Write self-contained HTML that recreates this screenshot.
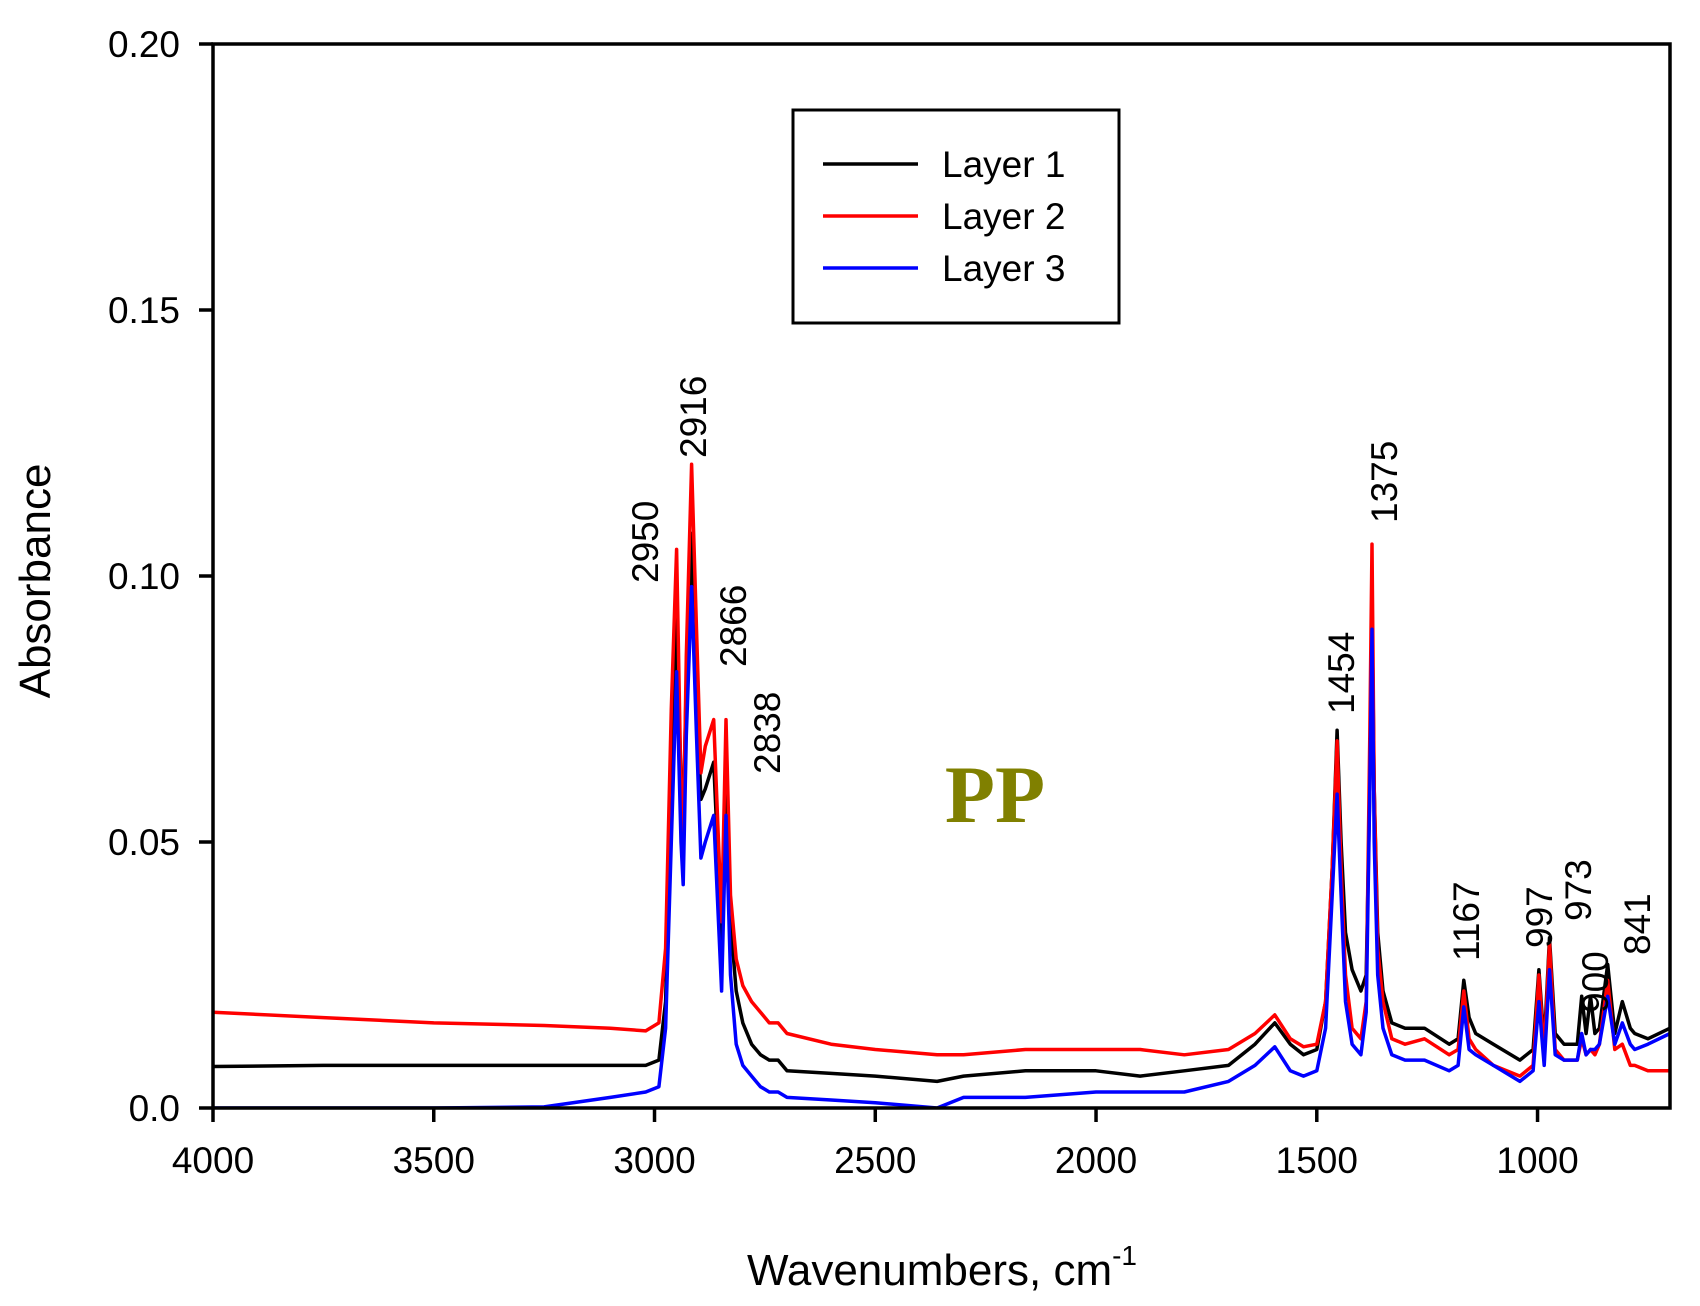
<!DOCTYPE html>
<html><head><meta charset="utf-8"><style>
html,body{margin:0;padding:0;background:#fff}
svg{display:block;font-family:"Liberation Sans",sans-serif}
</style></head><body>
<svg id="chart" width="1700" height="1306" viewBox="0 0 1700 1306"></svg>
<script>
const wavenumbers=[4000,3750,3500,3250,3100,3020,2990,2975,2962,2950,2940,2935,2928,2916,2905,2895,2885,2866,2855,2848,2838,2828,2815,2800,2780,2760,2740,2720,2700,2600,2500,2360,2300,2160,2000,1900,1800,1700,1640,1595,1560,1530,1500,1480,1465,1454,1445,1435,1420,1400,1388,1380,1375,1370,1362,1350,1330,1300,1256,1200,1180,1167,1155,1140,1100,1040,1010,997,985,973,960,940,910,900,890,880,870,860,841,825,808,790,780,750,700];
const layer1=[.0078,.008,.008,.008,.008,.008,.009,.02,.06,.095,.06,.055,.08,.108,.08,.058,.06,.065,.045,.03,.065,.035,.022,.016,.012,.010,.009,.009,.007,.0065,.006,.005,.006,.007,.007,.006,.007,.008,.012,.016,.012,.010,.011,.02,.045,.071,.05,.033,.026,.022,.025,.06,.095,.06,.033,.022,.016,.015,.015,.012,.013,.024,.017,.014,.012,.009,.011,.026,.012,.032,.014,.012,.012,.021,.014,.021,.014,.015,.027,.014,.020,.015,.014,.013,.015];
const layer2=[.018,.017,.016,.0155,.015,.0145,.016,.03,.075,.105,.06,.048,.085,.121,.09,.063,.068,.073,.05,.035,.073,.04,.028,.023,.02,.018,.016,.016,.014,.012,.011,.010,.010,.011,.011,.011,.010,.011,.014,.0175,.013,.0115,.012,.02,.045,.069,.045,.025,.015,.013,.02,.07,.106,.06,.03,.02,.013,.012,.013,.010,.011,.022,.013,.011,.008,.006,.008,.025,.010,.031,.011,.009,.009,.013,.010,.011,.010,.012,.024,.011,.012,.008,.008,.007,.007];
const layer3=[0,0,0,.0002,.002,.003,.004,.015,.05,.082,.05,.042,.07,.098,.07,.047,.05,.055,.035,.022,.055,.025,.012,.008,.006,.004,.003,.003,.002,.0015,.001,0,.002,.002,.003,.003,.003,.005,.008,.0115,.007,.006,.007,.015,.04,.059,.04,.02,.012,.010,.018,.06,.090,.05,.025,.015,.01,.009,.009,.007,.008,.019,.011,.010,.008,.005,.007,.020,.008,.026,.010,.009,.009,.014,.010,.011,.011,.012,.021,.012,.016,.012,.011,.012,.014];
const xTicks=[4000,3500,3000,2500,2000,1500,1000];
const yTicks=[0,0.05,0.10,0.15,0.20];
const yTickLabels=["0.0","0.05","0.10","0.15","0.20"];
const peakLabels=["2950","2916","2866","2838","1454","1375","1167","997","973","900","841"];
const peakLabelPos=[[645,583],[693,458],[733,667],[767,774],[1341,714],[1384,523],[1466,961],[1539,948],[1578,921],[1595,1013],[1637,955]];

const NS="http://www.w3.org/2000/svg";
const svg=document.getElementById('chart');
const L=213,R=1670,T=44,B=1108;
const xs=w=>L+(4000-w)*(R-L)/(4000-700);
const ys=v=>B-v*(B-T)/0.20;
function mk(tag,attrs,parent){const e=document.createElementNS(NS,tag);for(const k in attrs)e.setAttribute(k,attrs[k]);(parent||svg).appendChild(e);return e;}

const defs=mk('defs',{});
const cp=mk('clipPath',{id:'clip'},defs);
mk('rect',{x:L,y:T,width:R-L,height:B-T},cp);

const series=[[layer1,'#000000','layer-1-line'],[layer2,'#ff0000','layer-2-line'],[layer3,'#0000ff','layer-3-line']];
const g=mk('g',{'clip-path':'url(#clip)'});


series.forEach(s=>{
  const pts=wavenumbers.map((w,i)=>xs(w).toFixed(1)+','+ys(s[0][i]).toFixed(1)).join(' ');
  const p=mk('polyline',{points:pts,fill:'none',stroke:s[1],'stroke-width':3.5,'stroke-linejoin':'round'},g);
  
  
});

const frame=mk('rect',{x:L,y:T,width:R-L,height:B-T,fill:'none',stroke:'#000','stroke-width':3.5});



xTicks.forEach(t=>{
  const x=xs(t);
  const ln=mk('line',{x1:x,y1:B,x2:x,y2:B+14,stroke:'#000','stroke-width':3.5});
  
  
  const tx=mk('text',{x:x,y:B+65,'font-size':37,'text-anchor':'middle'});
  tx.textContent=t;
  
  
});
yTicks.forEach((t,i)=>{
  const y=ys(t);
  const ln=mk('line',{x1:L-14,y1:y,x2:L,y2:y,stroke:'#000','stroke-width':3.5});
  
  
  const tx=mk('text',{x:L-33,y:y+13,'font-size':37,'text-anchor':'end'});
  tx.textContent=yTickLabels[i];
  
  
});

const yt=mk('text',{x:0,y:0,'font-size':44,'text-anchor':'middle',transform:'translate(50,581) rotate(-90)'});
yt.textContent='Absorbance';


const xt=mk('text',{x:942,y:1285,'font-size':44,'text-anchor':'middle'});
xt.innerHTML='Wavenumbers, cm<tspan font-size="28" dy="-20">-1</tspan>';



peakLabels.forEach((lab,i)=>{
  const [x,y]=peakLabelPos[i];
  const t=mk('text',{x:0,y:0,'font-size':37,'text-anchor':'start',transform:`translate(${x+13},${y}) rotate(-90)`});
  t.textContent=lab;
  
  
});

const pp=mk('text',{x:995,y:822,'font-size':82,'font-weight':'bold','text-anchor':'middle',fill:'#808000','font-family':'"Liberation Serif",serif'});
pp.textContent='PP';



const lg=mk('g',{});


mk('rect',{x:793,y:110,width:326,height:213,fill:'#fff',stroke:'#000','stroke-width':3},lg);
const names=['Layer 1','Layer 2','Layer 3'];
series.forEach((s,i)=>{
  const y=164+i*52;
  const ln=mk('line',{x1:823,y1:y,x2:918,y2:y,stroke:s[1],'stroke-width':3.5},lg);
  
  
  const t=mk('text',{x:942,y:y+13,'font-size':37},lg);
  t.textContent=names[i];
  
  
});
</script>
</body></html>
